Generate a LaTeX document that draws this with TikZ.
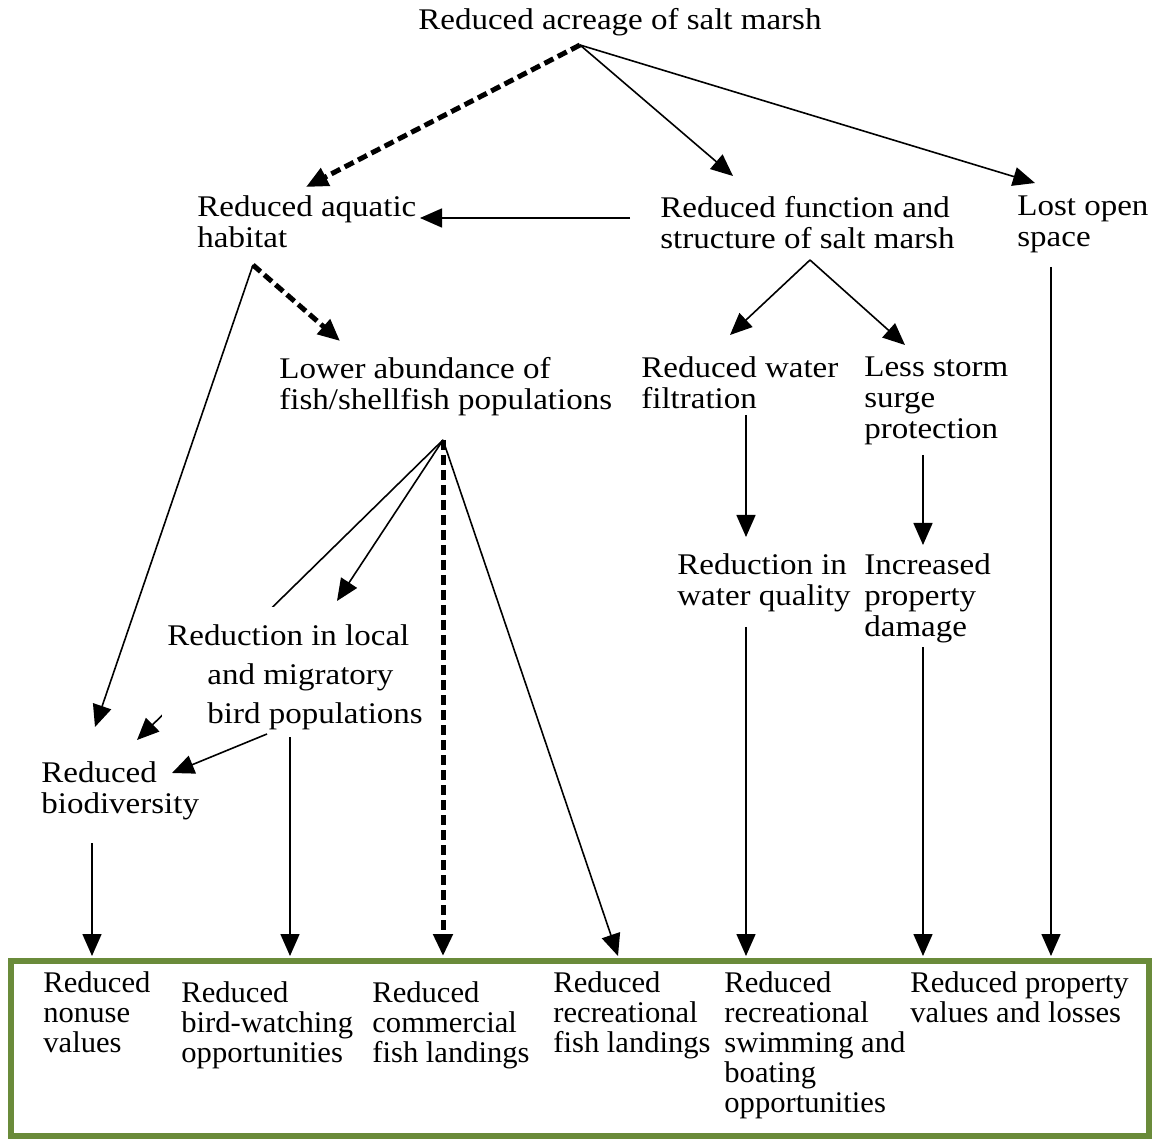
\documentclass[tikz,border=0pt]{standalone}
\usepackage{fontspec}
\setmainfont{Liberation Serif}[FakeStretch=1.1]
\newfontfamily\outcomefont{Liberation Serif}[FakeStretch=1.02]
\usetikzlibrary{arrows.meta,positioning}
\definecolor{boxgreen}{RGB}{106,139,58}
\tikzset{
    effect/.style = {inner sep=0pt, anchor=north west, align=left,
        font=\fontsize{15pt}{15.5pt}\selectfont},
    outcome/.style = {inner sep=0pt, anchor=north west, align=left,
        font=\outcomefont\fontsize{15pt}{15pt}\selectfont},
    link/.style = {-{Triangle[length=11pt,width=9.5pt]}, line width=0.8pt},
    strong/.style = {-{Triangle[length=11pt,width=9.5pt]}, line width=2.5pt,
        dash pattern=on 5pt off 2.5pt},
    outcomebox/.style = {draw=boxgreen, line width=2.75pt},
}

\begin{document}
\begin{tikzpicture}[x=0.5pt, y=-0.5pt]
	\useasboundingbox (0,0) rectangle (1153,1139);
	
	% diagram blocks
	\node (title) [effect] at (418,7.5) {Reduced acreage of salt marsh};
	\node (aquatic) [effect] at (197,195.5) {Reduced aquatic\\habitat};
	\node (function) [effect] at (660,195.5) {Reduced function and\\structure of salt marsh};
	\node (lost) [effect] at (1017,195.5) {Lost open\\space};
	\node (abund) [effect] at (279,356.5) {Lower abundance of\\fish/shellfish populations};
	\node (filtration) [effect] at (641,356.5) {Reduced water\\filtration};
	\node (storm) [effect] at (864,356.5) {Less storm\\surge\\protection};
	\node (quality) [effect] at (677,553.5) {Reduction in\\water quality};
	\node (damage) [effect] at (864,553.5) {Increased\\property\\damage};
	\node (biodiv) [effect] at (41,761.5) {Reduced\\biodiversity};
	
	% this one runs behind the bird block
	\draw[link] ([shift={(164,83.5)}]abund.north west) -- ([shift={(96,-21.5)}]biodiv.north west);
	\node (bird) [effect, fill=white, inner xsep=2.5pt, inner ysep=8.75pt,
		font=\fontsize{15pt}{19.5pt}\selectfont] at (162,607)
		{Reduction in local\\\hspace*{20pt}and migratory\\\hspace*{20pt}bird populations};
	
	% outcomes
	\draw[outcomebox] (11,961) rectangle (1149,1136);
	\node (nonuse) [outcome] at (43,971.5) {Reduced\\nonuse\\values};
	\node (birdwatch) [outcome] at (181,981.5) {Reduced\\bird-watching\\opportunities};
	\node (commercial) [outcome] at (372,981.5) {Reduced\\commercial\\fish landings};
	\node (recfish) [outcome] at (553,971.5) {Reduced\\recreational\\fish landings};
	\node (swimming) [outcome] at (724,971.5) {Reduced\\recreational\\swimming and\\boating\\opportunities};
	\node (property) [outcome] at (910,971.5) {Reduced property\\values and losses};
	
	%% edges from the salt marsh
	\draw[strong] ([shift={(162,37.5)}]title.north west) -- ([shift={(109,-8.5)}]aquatic.north west);
	\draw[link] ([shift={(162,37.5)}]title.north west) -- ([shift={(73,-19.5)}]function.north west);
	\draw[link] ([shift={(162,37.5)}]title.north west) -- ([shift={(18,-12.5)}]lost.north west);
	\draw[link] ([shift={(-30,22.5)}]function.north west) -- ([shift={(223,22.5)}]aquatic.north west);
	
	% habitat branch
	\draw[strong] ([shift={(56,69.5)}]aquatic.north west) -- ([shift={(61,-15.5)}]abund.north west);
	\draw[link] ([shift={(56,69.5)}]aquatic.north west) -- ([shift={(54,-34.5)}]biodiv.north west);
	\draw[link] ([shift={(164,83.5)}]abund.north west) -- ([shift={(175,-6)}]bird.north west);
	\draw[strong] ([shift={(164,83.5)}]abund.north west) -- ([shift={(71,-25.5)}]commercial.north west);
	\draw[link] ([shift={(164,83.5)}]abund.north west) -- ([shift={(65,-15.5)}]recfish.north west);
	\draw[link] ([shift={(105,127)}]bird.north west) -- ([shift={(131,11.5)}]biodiv.north west);
	\draw[link] ([shift={(128,130)}]bird.north west) -- ([shift={(109,-25.5)}]birdwatch.north west);
	\draw[link] ([shift={(51,81.5)}]biodiv.north west) -- ([shift={(49,-15.5)}]nonuse.north west);
	
	% function branch
	\draw[link] ([shift={(150,64.5)}]function.north west) -- ([shift={(89,-21.5)}]filtration.north west);
	\draw[link] ([shift={(150,64.5)}]function.north west) -- ([shift={(41,-11.5)}]storm.north west);
	\draw[link] ([shift={(105,58.5)}]filtration.north west) -- ([shift={(69,-16.5)}]quality.north west);
	\draw[link] ([shift={(59,98.5)}]storm.north west) -- ([shift={(59,-8.5)}]damage.north west);
	\draw[link] ([shift={(69,73.5)}]quality.north west) -- ([shift={(22,-15.5)}]swimming.north west);
	\draw[link] ([shift={(59,93.5)}]damage.north west) -- ([shift={(13,-15.5)}]property.north west);
	\draw[link] ([shift={(34,71.5)}]lost.north west) -- ([shift={(141,-15.5)}]property.north west);
	
\end{tikzpicture}
\end{document}
